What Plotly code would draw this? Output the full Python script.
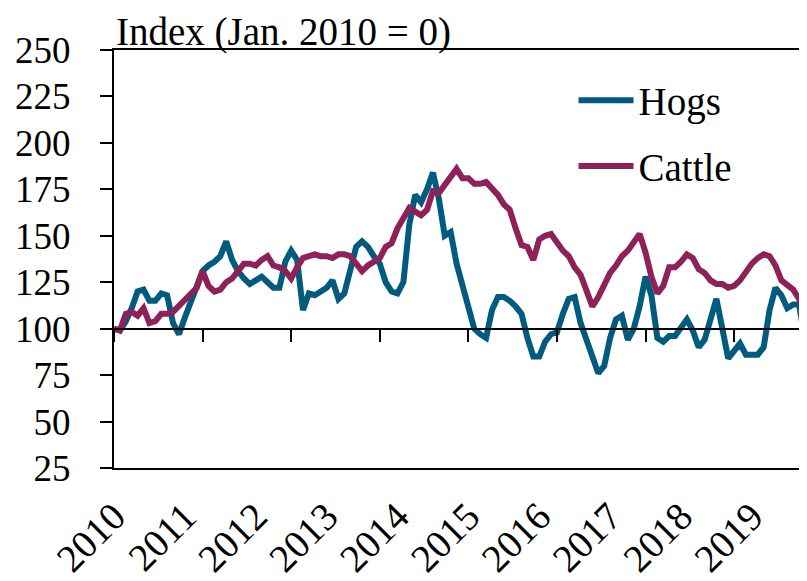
import plotly.graph_objects as go

FONT = "Times New Roman, Liberation Serif, DejaVu Serif, serif"
HOG_COLOR = "#005b7f"
CATTLE_COLOR = "#8e2158"

# monthly index, Jan 2010 = month 0 (through Oct 2019)
months = list(range(118))

hogs = [
    100, 99, 104, 111, 120, 121, 115, 115, 119, 118, 103, 97,
    106, 115, 124, 131, 134, 136, 139, 147, 137, 131, 127, 124,
    126, 128, 125, 122, 122, 136, 142, 137, 110, 119, 118, 120,
    122, 126, 116, 119, 131, 144, 147, 144, 139, 135, 125, 120,
    119, 125, 156, 172, 168, 175, 184, 170, 150, 152, 135, 124,
    112, 100, 97, 95, 110, 117, 117, 115, 112, 108, 95, 85,
    85, 93, 97, 98, 108, 116, 117, 103, 94, 86, 76, 80,
    95, 105, 107, 94, 100, 112, 128, 118, 95, 93, 96, 96,
    101, 105, 99, 90, 94, 105, 116, 100, 84, 88, 92, 86,
    86, 86, 90, 110, 122, 118, 111, 113, 113, 94,
]

cattle = [
    100, 99, 108, 109, 107, 111, 103, 104, 108, 108, 109, 112,
    116, 119, 122, 131, 123, 120, 121, 125, 127, 131, 135, 135,
    134, 137, 139, 134, 133, 131, 127, 133, 138, 139, 140, 139,
    139, 138, 140, 140, 139, 135, 131, 134, 136, 138, 144, 146,
    154, 160, 165, 163, 161, 164, 174, 173, 177, 181, 186, 181,
    181, 178, 178, 179, 176, 172, 167, 164, 154, 145, 144, 137,
    148, 150, 151, 146, 142, 139, 133, 129, 121, 112, 117, 124,
    130, 134, 139, 142, 146, 151, 141, 128, 119, 123, 133, 133,
    136, 140, 138, 132, 130, 126, 124, 124, 122, 123, 126, 131,
    135, 138, 140, 139, 134, 126, 123, 121, 116, 111,
]

year_ticks = list(range(0, 118, 12))
year_labels = [str(2010 + i) for i in range(len(year_ticks))]
y_ticks = list(range(25, 251, 25))

fig = go.Figure()
# hogs sit on the axis crossing at 100, cattle on the framed bottom axis;
# both axes share the same range so the lines line up
fig.add_trace(go.Scatter(x=months, y=hogs, mode="lines", name="Hogs",
                         legendgroup="hogs", xaxis="x",
                         line=dict(color=HOG_COLOR, width=6)))
fig.add_trace(go.Scatter(x=months, y=cattle, mode="lines", name="Cattle",
                         legendgroup="cattle", xaxis="x2",
                         line=dict(color=CATTLE_COLOR, width=6)))

# page body adds an 8px offset, so the figure is sized to fit the window
fig.update_layout(
    width=799,
    height=573,
    font=dict(family=FONT, size=37, color="black"),
    paper_bgcolor="white",
    plot_bgcolor="white",
    margin=dict(l=106, r=2, t=42, b=113),
    # axis line crossing at 100, with tick marks only
    xaxis=dict(
        range=[0, 117], anchor="free", position=(100 - 25) / 225,
        showline=True, linecolor="black", linewidth=2,
        ticks="outside", ticklen=12, tickwidth=2, tickcolor="black",
        tickmode="linear", tick0=0, dtick=15, automargin=False,
        showticklabels=False, showgrid=False, zeroline=False,
    ),
    # frame bottom/top with year labels
    xaxis2=dict(
        range=[0, 117], overlaying="x", anchor="y", side="bottom",
        showline=True, linecolor="black", linewidth=2, mirror=True,
        ticks="", tickvals=year_ticks, ticktext=year_labels,
        tickangle=-45, tickfont=dict(size=39), ticklabelstandoff=8,
        automargin=False, showgrid=False, zeroline=False,
    ),
    yaxis=dict(
        range=[25, 250], tickvals=y_ticks,
        showline=True, linecolor="black", linewidth=2, mirror=True,
        ticks="outside", ticklen=12, tickwidth=2, tickcolor="black",
        ticklabelstandoff=22, automargin=False,
        showgrid=False, zeroline=False,
    ),
    legend=dict(
        x=0.665, y=0.956, xanchor="left", yanchor="top",
        font=dict(size=39), itemwidth=55, tracegroupgap=12,
        bgcolor="rgba(0,0,0,0)",
    ),
    annotations=[dict(
        text="Index (Jan. 2010 = 0)", x=0, y=1, xref="paper", yref="paper",
        xanchor="left", yanchor="bottom", showarrow=False,
        font=dict(size=39), yshift=-6,
    )],
)

fig.write_html("out.html")
